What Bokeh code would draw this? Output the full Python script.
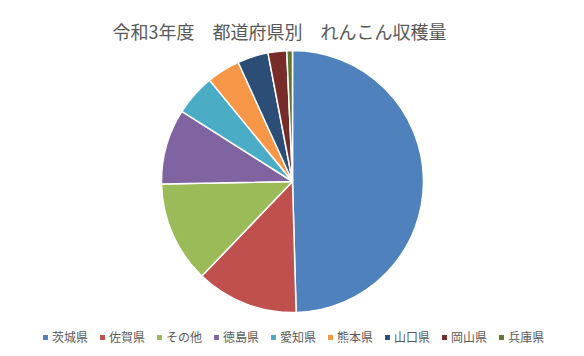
import math
from bokeh.plotting import figure
from bokeh.models import Range1d, ColumnDataSource, Legend, LegendItem
from bokeh.core.properties import value
from bokeh.embed import file_html
from bokeh.resources import INLINE

# Data (tonnes)
prefectures = ["茨城県", "佐賀県", "その他", "徳島県", "愛知県", "熊本県", "山口県", "岡山県", "兵庫県"]
harvest = [27600, 7020, 6970, 5180, 2840, 2290, 2120, 1280, 390]
colors = ["#4F81BD", "#C0504D", "#9BBB59", "#8064A2", "#4BACC6", "#F79646", "#2C4D75", "#772C2A", "#5F7530"]
title_text = "令和3年度　都道府県別　れんこん収穫量"

W, H = 584, 356
FONT = "Noto Sans CJK JP"

total = sum(harvest)
starts, ends = [], []
cum = 0.0
for v in harvest:
    a0 = math.pi / 2 - 2 * math.pi * cum / total
    cum += v
    a1 = math.pi / 2 - 2 * math.pi * cum / total
    starts.append(a0)
    ends.append(a1)

src = ColumnDataSource(dict(name=prefectures, val=harvest, color=colors, start=starts, end=ends))

p = figure(width=W, height=H, output_backend="svg", toolbar_location=None,
           x_range=Range1d(0, W), y_range=Range1d(0, H), min_border=0,
           border_fill_color="white", background_fill_color="white")
p.axis.visible = False
p.xgrid.visible = False
p.ygrid.visible = False
p.outline_line_color = None

cx, cy, r = 292, H - 181, 131
wr = p.wedge(x=cx, y=cy, radius=r, radius_units="data", start_angle="start", end_angle="end",
             direction="clock", fill_color="color", line_color="white", line_width=1.5, source=src)

p.text(x=[279], y=[H - 30], text=[title_text], text_align="center", text_baseline="middle",
       text_font=value(FONT), text_font_size="18px", text_color="#595959")

items = [LegendItem(label=n, renderers=[wr], index=i) for i, n in enumerate(prefectures)]
legend = Legend(items=items, orientation="horizontal", location=(41, 11),
                glyph_width=8, glyph_height=8, label_standoff=3, spacing=10,
                padding=0, margin=0, border_line_alpha=0, background_fill_alpha=0,
                label_text_font=FONT, label_text_font_size="12px", label_text_color="#595959",
                label_height=12)
p.add_layout(legend, "center")

open("out.html", "w").write(file_html(p, INLINE))
